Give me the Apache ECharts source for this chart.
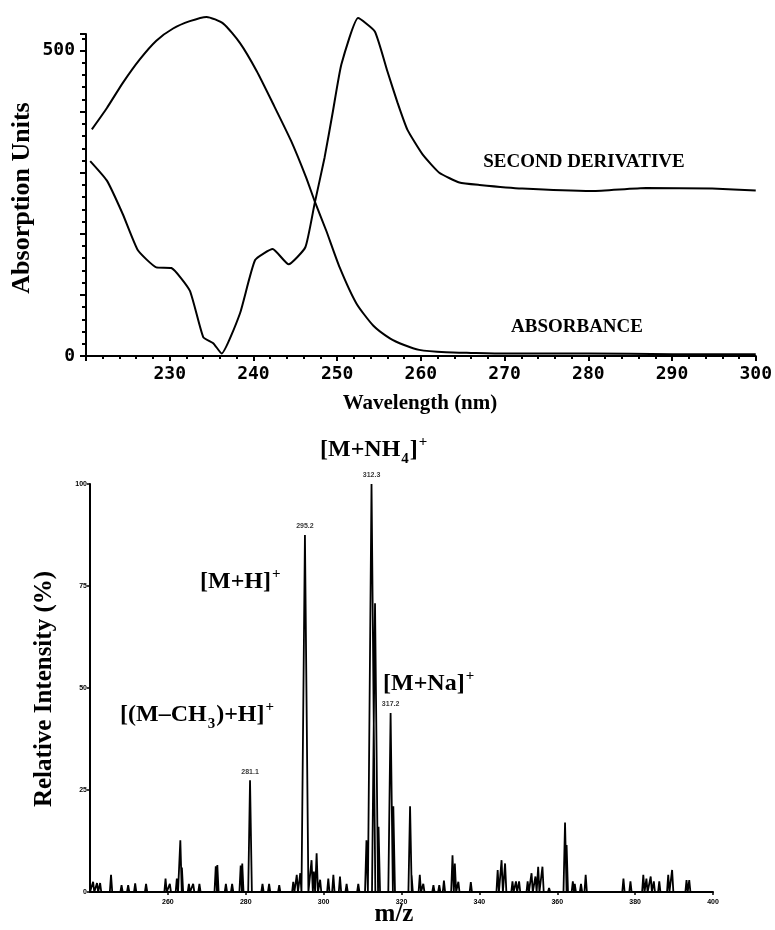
<!DOCTYPE html>
<html>
<head>
<meta charset="utf-8">
<script src="https://cdn.jsdelivr.net/npm/echarts@6/dist/echarts.min.js"></script>
<style>html,body{margin:0;padding:0;background:#fff}#c{width:775px;height:930px}</style>
</head>
<body>
<div id="c"></div>
<script>
// ---------- UV spectrum (top) ----------
const WL_ABS = [220.7, 222.5, 224.4, 226.4, 228.4, 230.4, 232.4, 234.4, 236.4, 238.4, 240.4, 242.3, 244.5, 246.3, 247.3, 248.7, 250.3, 252.3, 254.3, 256.3, 258, 259.8, 263, 266, 270, 280, 290, 300];
const ABS    = [371, 406, 447, 485, 516, 536, 548, 555, 544, 512, 466, 414, 352, 292, 254, 205, 145, 86, 50, 29, 18, 10, 6, 5, 4, 4, 3, 3];
const WL_D2  = [220.5, 222.5, 224.4, 226.2, 228.4, 230.2, 232.4, 234, 235.2, 236.2, 238.4, 240.2, 242.3, 244.2, 246.2, 247.3, 248.5, 249.5, 250.5, 252.5, 254.5, 256, 257.2, 258.4, 260.2, 262.2, 264.6, 267, 272.1, 280.5, 286.9, 294.8, 300];
const D2     = [319, 287, 232, 173, 145, 144, 107, 31, 21, 4, 70, 157, 175, 150, 178, 249, 325, 401, 477, 553, 531, 466, 415, 370, 330, 300, 284, 280, 274, 270, 275, 274, 271];
const UV_Y_LABELS = [0, 500];

// ---------- Mass spectrum (bottom) ----------
const PEAK_MZ = [240.8, 241.8, 242.6, 245.4, 248.1, 249.8, 251.6, 254.4, 259.4, 260.5, 262.3, 263.2, 263.6, 265.4, 266.5, 268.1, 272.3, 272.7, 274.9, 276.5, 278.7, 279.1, 281.1, 284.3, 286.0, 288.6, 292.2, 293.1, 294.0, 295.2, 296.9, 297.5, 298.2, 299.1, 301.2, 302.5, 304.2, 305.9, 308.9, 311.0, 312.3, 313.2, 314.1, 317.2, 317.9, 322.2, 322.6, 324.7, 325.6, 328.2, 329.7, 330.9, 333.1, 333.7, 334.6, 337.8, 344.7, 345.7, 346.6, 348.5, 349.4, 350.2, 352.4, 353.4, 354.4, 355.1, 356.2, 357.9, 362.0, 362.4, 364.0, 364.5, 366.1, 367.3, 377.0, 378.8, 382.1, 382.9, 384.0, 384.8, 386.2, 388.5, 389.5, 393.2, 393.9];
const PEAK_INT = [2.5, 2.2, 2.2, 4.2, 1.7, 1.7, 2.1, 2.0, 3.3, 2.0, 3.3, 12.7, 6.0, 2.0, 2.0, 2.0, 6.3, 6.6, 2.0, 2.0, 6.5, 7.0, 27.4, 2.0, 2.0, 1.7, 2.5, 4.2, 4.6, 87.5, 7.8, 5.0, 9.5, 3.0, 3.3, 4.2, 3.8, 2.0, 2.0, 12.7, 100, 70.8, 16.0, 43.9, 21.0, 21.0, 4.0, 4.2, 2.0, 1.7, 1.7, 2.8, 9.0, 7.0, 2.5, 2.4, 5.4, 7.8, 7.0, 2.6, 2.6, 2.6, 2.6, 4.6, 3.8, 6.2, 6.2, 1.0, 17.0, 11.5, 2.6, 2.0, 2.0, 4.2, 3.3, 2.6, 4.2, 3.3, 3.8, 2.6, 2.6, 4.2, 5.4, 2.9, 2.9];
const LABELLED_MZ = [281.1, 295.2, 312.3, 317.2];

// ---------- build series data ----------
const absData = WL_ABS.map((x, i) => [x, ABS[i]]);
const d2Data = WL_D2.map((x, i) => [x, D2[i]]);
const profile = [[240, 0]];
PEAK_MZ.forEach((mz, i) => {
  const h = PEAK_INT[i];
  const hw = 0.28 + 0.007 * h;
  profile.push([mz - hw, 0], [mz, h], [mz + hw, 0]);
});
profile.push([400, 0]);
const labelled = LABELLED_MZ.map(mz => [mz, PEAK_INT[PEAK_MZ.indexOf(mz)]]);

// ---------- annotation helper ----------
const mctx = document.createElement('canvas').getContext('2d');
function ion(left, baseline, parts) {
  let x = left;
  const children = [];
  parts.forEach(([t, k]) => {
    const fs = k === 'n' ? 24 : 15;
    const font = 'bold ' + fs + 'px "Liberation Serif"';
    mctx.font = font;
    const w = mctx.measureText(t).width;
    const shift = k === 'sub' ? 6 : (k === 'sup' ? -11 : 0);
    children.push({ type: 'text', x: x, y: baseline + shift - 0.34 * fs,
      style: { text: t, font: font, fill: '#000', align: 'left', verticalAlign: 'middle' } });
    x += w + (k === 'sup' ? 0 : 1);
  });
  return { type: 'group', children: children };
}
function txt(x, y, t, fs, rot, fam) {
  return { type: 'text', x: x, y: y, rotation: rot || 0,
    style: { text: t, font: 'bold ' + fs + 'px ' + (fam || '"Liberation Serif"'), fill: '#000', align: 'center', verticalAlign: 'middle' } };
}

const black = '#000';
const monoLabel = { color: black, fontFamily: '"DejaVu Sans Mono"', fontWeight: 'bold', fontSize: 18 };
const tinyLabel = { color: black, fontFamily: '"Liberation Sans"', fontWeight: 'bold', fontSize: 7 };

const chart = echarts.init(document.getElementById('c'), null, { renderer: 'canvas' });
chart.setOption({
  backgroundColor: '#fff',
  animation: false,
  grid: [
    { left: 86, width: 671, top: 34, height: 322 },
    { left: 90, width: 623, top: 484, height: 408 }
  ],
  xAxis: [
    { gridIndex: 0, type: 'value', min: 220, max: 300, interval: 10,
      axisLine: { show: true, lineStyle: { color: black, width: 2 } },
      axisTick: { show: true, length: 5, lineStyle: { color: black, width: 2 } },
      minorTick: { show: true, splitNumber: 5, length: 3, lineStyle: { color: black, width: 2 } },
      splitLine: { show: false },
      axisLabel: Object.assign({ margin: 9, showMinLabel: false }, monoLabel) },
    { gridIndex: 1, type: 'value', min: 240, max: 400, interval: 20,
      axisLine: { show: true, lineStyle: { color: black, width: 2 } },
      axisTick: { show: true, length: 3, lineStyle: { color: black, width: 1.5 } },
      splitLine: { show: false },
      axisLabel: Object.assign({ margin: 7, showMinLabel: false }, tinyLabel) }
  ],
  yAxis: [
    { gridIndex: 0, type: 'value', min: 0, max: 527, interval: 100,
      axisLine: { show: true, lineStyle: { color: black, width: 2 } },
      axisTick: { show: true, length: 6, lineStyle: { color: black, width: 2 } },
      minorTick: { show: true, splitNumber: 5, length: 4, lineStyle: { color: black, width: 2 } },
      splitLine: { show: false },
      axisLabel: Object.assign({ margin: 11, formatter: v => UV_Y_LABELS.indexOf(v) >= 0 ? String(v) : '' }, monoLabel) },
    { gridIndex: 1, type: 'value', min: 0, max: 100, interval: 25,
      axisLine: { show: true, lineStyle: { color: black, width: 2 } },
      axisTick: { show: true, length: 3, lineStyle: { color: black, width: 1.5 } },
      splitLine: { show: false },
      axisLabel: Object.assign({ margin: 3 }, tinyLabel) }
  ],
  series: [
    { type: 'line', xAxisIndex: 0, yAxisIndex: 0, data: absData, smooth: 0.2, symbol: 'none', clip: false,
      lineStyle: { color: black, width: 2 } },
    { type: 'line', xAxisIndex: 0, yAxisIndex: 0, data: d2Data, smooth: 0.15, symbol: 'none', clip: false,
      lineStyle: { color: black, width: 2 } },
    { type: 'line', xAxisIndex: 1, yAxisIndex: 1, data: profile, symbol: 'none',
      lineStyle: { color: black, width: 1.8 } },
    { type: 'scatter', xAxisIndex: 1, yAxisIndex: 1, data: labelled, symbolSize: 0,
      label: { show: true, position: 'top', distance: 5, formatter: p => p.value[0].toFixed(1),
        color: black, fontFamily: '"Liberation Sans"', fontWeight: 'bold', fontSize: 7 } }
  ],
  graphic: [
    txt(22, 198, 'Absorption Units', 26, Math.PI / 2),
    txt(420, 404, 'Wavelength (nm)', 21),
    txt(584, 162, 'SECOND DERIVATIVE', 19),
    txt(577, 327, 'ABSORBANCE', 19),
    txt(45, 689, 'Relative Intensity (%)', 25, Math.PI / 2),
    txt(394, 915, 'm/z', 25),
    ion(320, 458, [['[M+NH', 'n'], ['4', 'sub'], [']', 'n'], ['+', 'sup']]),
    ion(200, 590, [['[M+H]', 'n'], ['+', 'sup']]),
    ion(120, 723, [['[(M\u2013CH', 'n'], ['3', 'sub'], [')+H]', 'n'], ['+', 'sup']]),
    ion(383, 692, [['[M+Na]', 'n'], ['+', 'sup']])
  ]
});
</script>
</body>
</html>
